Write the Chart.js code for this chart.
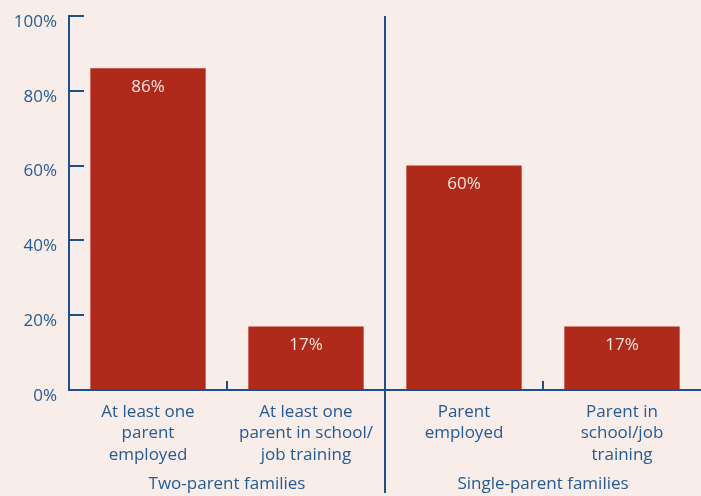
<!DOCTYPE html>
<html>
<head>
<meta charset="utf-8">
<script src="https://cdn.jsdelivr.net/npm/chart.js@4.4.0/dist/chart.umd.min.js"></script>
<style>
  html, body { margin: 0; padding: 0; background: #f8ede8; }
  #wrap { width: 701px; height: 496px; }
</style>
</head>
<body>
<div id="wrap"><canvas id="chart"></canvas></div>
<script>
// data
const categories = [
  ['At least one', 'parent', 'employed'],
  ['At least one', 'parent in school/', 'job training'],
  ['Parent', 'employed'],
  ['Parent in', 'school/job', 'training']
];
const values = [86, 17, 60, 17];
const groups = ['Two-parent families', 'Single-parent families'];
const groupSize = 2;
const yTicks = [0, 20, 40, 60, 80, 100];

const blue = '#1d4f8a';
const textBlue = '#255b95';
const red = '#b02a1b';
const fontName = "'Open Sans', sans-serif";

// axes, ticks, dividers, group names and bar labels
const decorations = {
  id: 'decorations',
  afterDraw(chart) {
    const ctx = chart.ctx;
    const x = chart.scales.x;
    const y = chart.scales.y;
    const top = y.getPixelForValue(100);
    const base = y.getPixelForValue(0);
    const left = chart.chartArea.left;

    ctx.save();
    ctx.strokeStyle = blue;
    ctx.lineWidth = 2;

    // y axis
    ctx.beginPath();
    ctx.moveTo(left, top - 1);
    ctx.lineTo(left, base + 1);
    ctx.stroke();

    yTicks.forEach(v => {
      const py = Math.round(y.getPixelForValue(v));
      ctx.beginPath();
      ctx.moveTo(left, py);
      ctx.lineTo(left + 15, py);
      ctx.stroke();
    });

    // x axis
    ctx.beginPath();
    ctx.moveTo(left, base);
    ctx.lineTo(chart.width, base);
    ctx.stroke();

    for (let i = 1; i < categories.length; i++) {
      const px = Math.round((x.getPixelForValue(i - 1) + x.getPixelForValue(i)) / 2);
      ctx.beginPath();
      if (i % groupSize === 0) {
        ctx.moveTo(px, top);
        ctx.lineTo(px, chart.height - 3);
      } else {
        ctx.moveTo(px, base);
        ctx.lineTo(px, base - 9);
      }
      ctx.stroke();
    }

    // group names
    ctx.fillStyle = textBlue;
    ctx.font = '17px ' + fontName;
    ctx.textAlign = 'center';
    ctx.textBaseline = 'middle';
    groups.forEach((g, n) => {
      const a = x.getPixelForValue(n * groupSize);
      const b = x.getPixelForValue(n * groupSize + groupSize - 1);
      ctx.fillText(g, (a + b) / 2, 484);
    });

    // value labels inside bars
    ctx.fillStyle = '#f8e6df';
    ctx.font = '17px ' + fontName;
    chart.getDatasetMeta(0).data.forEach((bar, i) => {
      ctx.fillText(values[i] + '%', bar.x, bar.y + 19);
    });
    ctx.restore();
  }
};

const ctx = document.getElementById('chart').getContext('2d');

const myChart = new Chart(ctx, {
  type: 'bar',
  data: {
    labels: categories,
    datasets: [{
      data: values,
      backgroundColor: red,
      borderWidth: 0,
      categoryPercentage: 1,
      barPercentage: 0.73
    }]
  },
  options: {
    responsive: true,
    maintainAspectRatio: false,
    animation: false,
    layout: { padding: { top: 16, right: -3, left: 0, bottom: 0 } },
    plugins: {
      legend: { display: false },
      tooltip: { enabled: false }
    },
    scales: {
      x: {
        grid: { display: false, drawTicks: false },
        border: { display: false },
        ticks: {
          color: textBlue,
          font: { family: fontName, size: 17, lineHeight: 1.24 },
          padding: 12,
          maxRotation: 0,
          autoSkip: false
        },
        afterFit(scale) { scale.height = 106; }
      },
      y: {
        min: 0,
        max: 100,
        grid: { display: false, drawTicks: false },
        border: { display: false },
        ticks: {
          stepSize: 20,
          color: textBlue,
          font: { family: fontName, size: 17 },
          padding: 12,
          labelOffset: 6,
          callback: v => v + '%'
        },
        afterFit(scale) {
          scale.width = 69;
          scale.paddingTop = 0;
          scale.paddingBottom = 0;
        }
      }
    }
  },
  plugins: [decorations]
});
</script>
</body>
</html>
